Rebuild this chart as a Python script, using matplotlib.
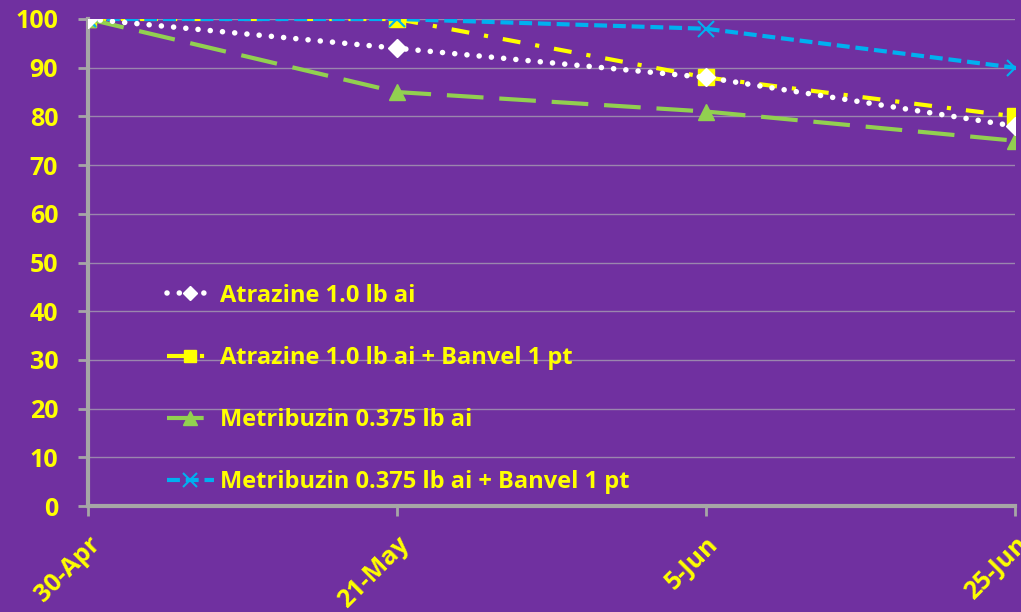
import matplotlib
matplotlib.use("Agg")
import matplotlib.pyplot as plt

dates = ["30-Apr", "21-May", "5-Jun", "25-Jun"]
atrazine = [100, 94, 88, 78]
atrazine_banvel = [100, 100, 88, 80]
metribuzin = [100, 85, 81, 75]
metribuzin_banvel = [100, 100, 98, 90]
labels = [
    "Atrazine 1.0 lb ai",
    "Atrazine 1.0 lb ai + Banvel 1 pt",
    "Metribuzin 0.375 lb ai",
    "Metribuzin 0.375 lb ai + Banvel 1 pt",
]

bg = "#7030A0"
yellow = "#FFFF00"
axis_gray = "#A6A6A6"
grid_gray = "#9A86AE"

plt.rcParams["font.family"] = ["Open Sans", "DejaVu Sans"]

fig = plt.figure(figsize=(10.21, 6.12), dpi=100, facecolor=bg)
ax = fig.add_axes([88 / 1021, 1 - 506 / 612, (1015 - 88) / 1021, (506 - 19) / 612])
ax.set_facecolor(bg)

x = list(range(len(dates)))
ax.plot(x, atrazine, color="white", linestyle=(0, (0.01, 2.2)), dash_capstyle="round",
        linewidth=4, marker="D", markersize=9, label=labels[0], zorder=4)
ax.plot(x, atrazine_banvel, color="#FFFF00", linestyle=(0, (4.3, 3.6, 1, 3.6)),
        linewidth=3, marker="s", markersize=11, label=labels[1], zorder=3)
ax.plot(x, metribuzin, color="#92D050", linestyle=(0, (8.8, 3.8)),
        linewidth=3, marker="^", markersize=12, label=labels[2], zorder=3)
ax.plot(x, metribuzin_banvel, color="#00B0F0", linestyle=(0, (3.1, 1.4)),
        linewidth=3, marker="x", markersize=12, markeredgewidth=1.5,
        label=labels[3], zorder=3)

ax.set_xlim(0, 3)
ax.set_ylim(0, 100)
ax.set_yticks(range(0, 101, 10))
ax.set_xticks(x)
ax.set_xticklabels(dates, rotation=45, ha="right", va="top", rotation_mode="anchor")
ax.yaxis.grid(True, color=grid_gray, linewidth=1)
ax.set_axisbelow(True)

for side in ["top", "right"]:
    ax.spines[side].set_visible(False)
for side in ["left", "bottom"]:
    ax.spines[side].set_color(axis_gray)
    ax.spines[side].set_linewidth(3)

ax.tick_params(axis="both", colors=axis_gray, width=2, length=7.5, labelcolor=yellow)
ax.tick_params(axis="x", pad=11)
ax.tick_params(axis="y", pad=14)
for lbl in ax.get_yticklabels() + ax.get_xticklabels():
    lbl.set_fontsize(18)
    lbl.set_fontweight("bold")

leg = ax.legend(loc="lower left", bbox_to_anchor=(0.062, -0.02), frameon=False,
                labelspacing=1.62, handlelength=2.0, handletextpad=0.25,
                markerscale=0.8, prop={"size": 17, "weight": "bold"})
for t in leg.get_texts():
    t.set_color(yellow)

fig.savefig("out.png", dpi=100, facecolor=bg)
